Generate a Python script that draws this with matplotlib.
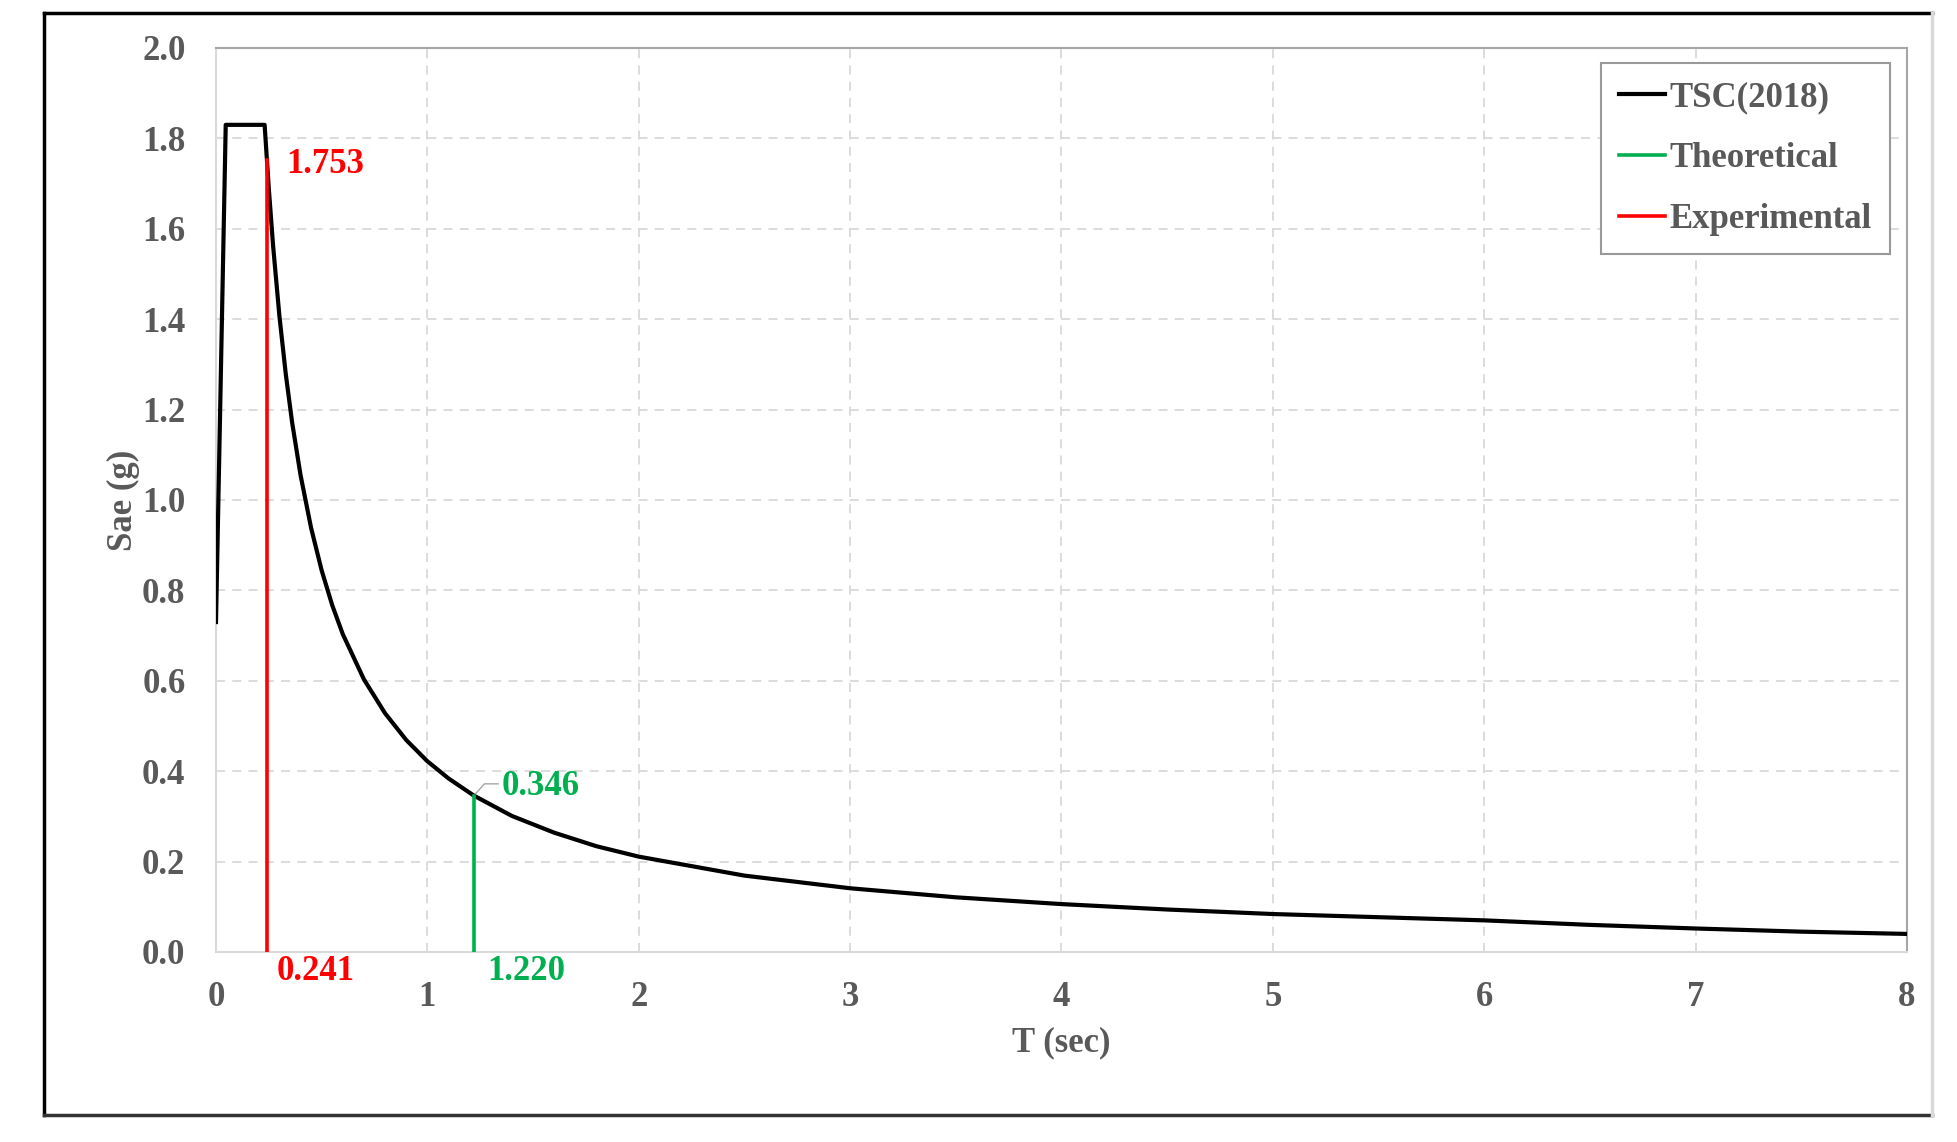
import matplotlib
matplotlib.use('Agg')
import matplotlib.pyplot as plt
from matplotlib.lines import Line2D

# TSC(2018) design spectrum
T_sec = [0.0, 0.046, 0.230, 0.25, 0.27, 0.30, 0.33, 0.36, 0.40, 0.45, 0.50, 0.55,
         0.60, 0.70, 0.80, 0.90, 1.00, 1.10, 1.22, 1.40, 1.60, 1.80, 2.00, 2.50,
         3.00, 3.50, 4.00, 4.50, 5.00, 5.50, 6.00, 6.50, 7.00, 7.50, 8.00]
Sae_g = [0.730, 1.830, 1.830, 1.688, 1.563, 1.407, 1.279, 1.172, 1.055, 0.938, 0.844, 0.767,
         0.703, 0.603, 0.528, 0.469, 0.422, 0.384, 0.346, 0.301, 0.264, 0.234, 0.211, 0.169,
         0.141, 0.121, 0.106, 0.094, 0.084, 0.077, 0.070, 0.060, 0.052, 0.045, 0.040]

T_exp, Sae_exp = 0.241, 1.753     # Experimental
T_th, Sae_th = 1.220, 0.346       # Theoretical

x_ticks = list(range(0, 9))
y_ticks = [0.0, 0.2, 0.4, 0.6, 0.8, 1.0, 1.2, 1.4, 1.6, 1.8, 2.0]

C_RED, C_GREEN, C_TXT = '#FF0000', '#00B050', '#595959'

plt.rcParams['font.family'] = ['Liberation Serif', 'DejaVu Serif']
plt.rcParams['font.weight'] = 'bold'
FS = 25

fig = plt.figure(figsize=(19.58, 11.42), dpi=100)
ax = fig.add_axes([216 / 1958, 1 - 952 / 1142, 1691 / 1958, 904 / 1142])

ax.plot(T_sec, Sae_g, color='black', linewidth=3.0, label='TSC(2018)', zorder=3)
ax.plot([T_th, T_th], [0, Sae_th], color=C_GREEN, linewidth=2.6, label='Theoretical', zorder=4)
ax.plot([T_exp, T_exp], [0, Sae_exp], color=C_RED, linewidth=2.6, label='Experimental', zorder=4)

# value labels
ax.text(0.33, 1.742, f'{Sae_exp:.3f}', color=C_RED, fontsize=FS, fontweight='bold',
        ha='left', va='center')
ax.text(0.289, -0.043, f'{T_exp:.3f}', color=C_RED, fontsize=FS, fontweight='bold',
        ha='left', va='center', clip_on=False)
ax.plot([T_th, 1.27, 1.335], [Sae_th, 0.372, 0.372], color='#a6a6a6', linewidth=1.0, zorder=2)
ax.text(1.353, 0.367, f'{Sae_th:.3f}', color=C_GREEN, fontsize=FS, fontweight='bold',
        ha='left', va='center')
ax.text(1.282, -0.043, f'{T_th:.3f}', color=C_GREEN, fontsize=FS, fontweight='bold',
        ha='left', va='center', clip_on=False)

ax.set_xlim(0, 8)
ax.set_ylim(0, 2.0)
ax.set_xticks(x_ticks)
ax.set_yticks(y_ticks)
ax.set_xticklabels([str(v) for v in x_ticks])
ax.set_yticklabels([f'{v:.1f}' for v in y_ticks])
ax.tick_params(length=0, labelsize=FS, labelcolor=C_TXT)
ax.tick_params(axis='x', pad=21)
ax.tick_params(axis='y', pad=22)
ax.grid(True, color='#d9d9d9', linestyle=(0, (5, 4)), linewidth=1.3)
ax.set_axisbelow(True)
for s in ('left', 'bottom'):
    ax.spines[s].set_color('#d9d9d9')
    ax.spines[s].set_linewidth(1.5)
for s in ('top', 'right'):
    ax.spines[s].set_color('#a6a6a6')
    ax.spines[s].set_linewidth(1.5)

ax.set_xlabel('T (sec)', fontsize=FS, fontweight='bold', color=C_TXT)
ax.set_ylabel('Sae (g)', fontsize=FS, fontweight='bold', color=C_TXT)
ax.xaxis.label.set_va('center')
ax.yaxis.label.set_va('center')
ax.xaxis.set_label_coords(0.5, -0.100)
ax.yaxis.set_label_coords(-0.055, 0.5)

leg = ax.legend(loc='upper right', bbox_to_anchor=(0.990, 0.983), borderaxespad=0,
                fontsize=FS, frameon=True, fancybox=False, framealpha=1,
                edgecolor='#999999', handlelength=1.33, handletextpad=0.14,
                labelspacing=0.80, borderpad=0.52)
leg.get_frame().set_linewidth(1.5)
for t in leg.get_texts():
    t.set_color(C_TXT)
    t.set_fontweight('bold')

# outer frame of the original figure
x0, x1 = 44 / 1958, 1932 / 1958
y0, y1 = 1 - 1115 / 1142, 1 - 13 / 1142
for xs, ys, c in [([x0, x1], [y1, y1], 'black'), ([x0, x0], [y0, y1], 'black'),
                  ([x0, x1], [y0, y0], '#333333'), ([x1, x1], [y0, y1], '#d9d9d9')]:
    fig.add_artist(Line2D(xs, ys, color=c, linewidth=2.5, transform=fig.transFigure))

fig.savefig('out.png', dpi=100)
